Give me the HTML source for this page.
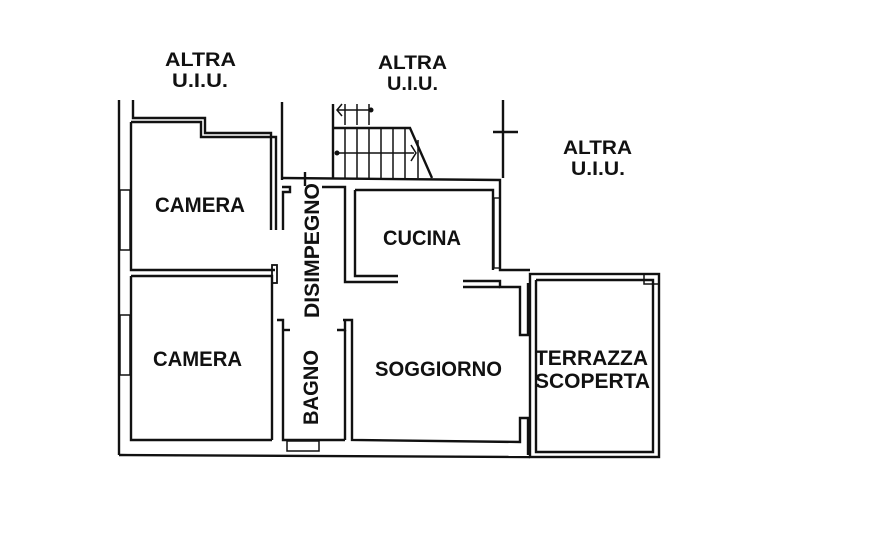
<!DOCTYPE html>
<html><head><meta charset="utf-8"><style>
html,body{margin:0;padding:0;background:#fff;}
svg{display:block}
text{font-family:"Liberation Sans",Arial,sans-serif;font-weight:bold;fill:#111;}
</style></head><body>
<svg width="894" height="538" viewBox="0 0 894 538" xmlns="http://www.w3.org/2000/svg">
<g fill="none" stroke="#111" stroke-width="2.4">
<line x1="119" y1="100" x2="119" y2="455"/>
<polyline points="133,100 133,118 205,118 205,133 271,133 271,230"/>
<line x1="282" y1="102" x2="282" y2="180"/>
<polyline points="131,122 131,270 275,270"/>
<polyline points="131,122 201,122 201,137 276,137 276,230"/>
<rect x="120" y="190" width="10" height="60" stroke-width="1.5"/>
<rect x="120" y="315" width="10" height="60" stroke-width="1.5"/>
<polyline points="131,276 272,276 272,440"/>
<rect x="272" y="265" width="5" height="18" stroke-width="1.8"/>
<polyline points="131,276 131,440 272,440"/>
<polyline points="119,455 530,457"/>
<rect x="287" y="441" width="32" height="10" stroke-width="1.5"/>
<polyline points="282,178 500,180 500,270 530,270"/>
<polyline points="282,187 290,187 290,192 283,192 283,230"/>
<line x1="305" y1="172" x2="305" y2="186"/>
<polyline points="322,187 345,187 345,282 398,282"/>
<polyline points="355,190 493,190 493,270"/>
<polyline points="355,190 355,276 398,276"/>
<rect x="494" y="198" width="6" height="70" stroke-width="1.4"/>
<polyline points="463,281 500,281 500,287 520,287 520,335 528,335 528,283"/>
<polyline points="463,287 500,287"/>
<polyline points="343,320 352,320 352,440 520,442 520,418 528,418 528,455"/>
<polyline points="337,330 345,330 345,320"/>
<polyline points="345,330 345,440"/>
<polyline points="277,320 283,320 283,440 345,440"/>
<polyline points="283,330 290,330"/>
<rect x="530" y="274" width="129" height="183"/>
<polyline points="536,280 653,280 653,452 536,452 536,280"/>
<rect x="644" y="274" width="15" height="10" stroke-width="1.5"/>
<line x1="333" y1="104" x2="333" y2="178"/>
<polyline points="333,128 410,128 432,178"/>
<g stroke-width="1.5">
<line x1="345" y1="128" x2="345" y2="178"/><line x1="357" y1="128" x2="357" y2="178"/><line x1="369" y1="128" x2="369" y2="178"/><line x1="381" y1="128" x2="381" y2="178"/><line x1="393" y1="128" x2="393" y2="178"/><line x1="405" y1="128" x2="405" y2="178"/><line x1="418" y1="140" x2="418" y2="178"/>
<line x1="345" y1="104" x2="345" y2="125"/><line x1="357" y1="104" x2="357" y2="125"/><line x1="369" y1="104" x2="369" y2="125"/>
<line x1="337" y1="110" x2="371" y2="110"/>
<polyline points="342,104 337,110 342,116"/>
<line x1="337" y1="153" x2="414" y2="153"/>
<polyline points="411,145 416,153 411,161"/>
</g>
<line x1="503" y1="100" x2="503" y2="178"/>
<line x1="493" y1="132" x2="518" y2="132"/>
</g>
<circle cx="371" cy="110" r="2.5" fill="#111"/>
<circle cx="337" cy="153" r="2.5" fill="#111"/>
<g font-size="19">
<text x="165" y="66" textLength="71" lengthAdjust="spacingAndGlyphs">ALTRA</text>
<text x="172" y="87" textLength="56" lengthAdjust="spacingAndGlyphs">U.I.U.</text>
<text x="378" y="69" textLength="69" lengthAdjust="spacingAndGlyphs">ALTRA</text>
<text x="387" y="90" textLength="51" lengthAdjust="spacingAndGlyphs">U.I.U.</text>
<text x="563" y="154" textLength="69" lengthAdjust="spacingAndGlyphs">ALTRA</text>
<text x="571" y="175" textLength="54" lengthAdjust="spacingAndGlyphs">U.I.U.</text>
</g>
<g font-size="21">
<text x="155" y="212" textLength="90" lengthAdjust="spacingAndGlyphs">CAMERA</text>
<text x="153" y="366" textLength="89" lengthAdjust="spacingAndGlyphs">CAMERA</text>
<text x="383" y="245" textLength="78" lengthAdjust="spacingAndGlyphs">CUCINA</text>
<text x="375" y="376" textLength="127" lengthAdjust="spacingAndGlyphs">SOGGIORNO</text>
<text x="535" y="365" textLength="113" lengthAdjust="spacingAndGlyphs">TERRAZZA</text>
<text x="535" y="388" textLength="115" lengthAdjust="spacingAndGlyphs">SCOPERTA</text>
<text transform="translate(319,318) rotate(-90)" textLength="135" lengthAdjust="spacingAndGlyphs">DISIMPEGNO</text>
<text transform="translate(318,425) rotate(-90)" textLength="75" lengthAdjust="spacingAndGlyphs">BAGNO</text>
</g>
</svg>
</body></html>
